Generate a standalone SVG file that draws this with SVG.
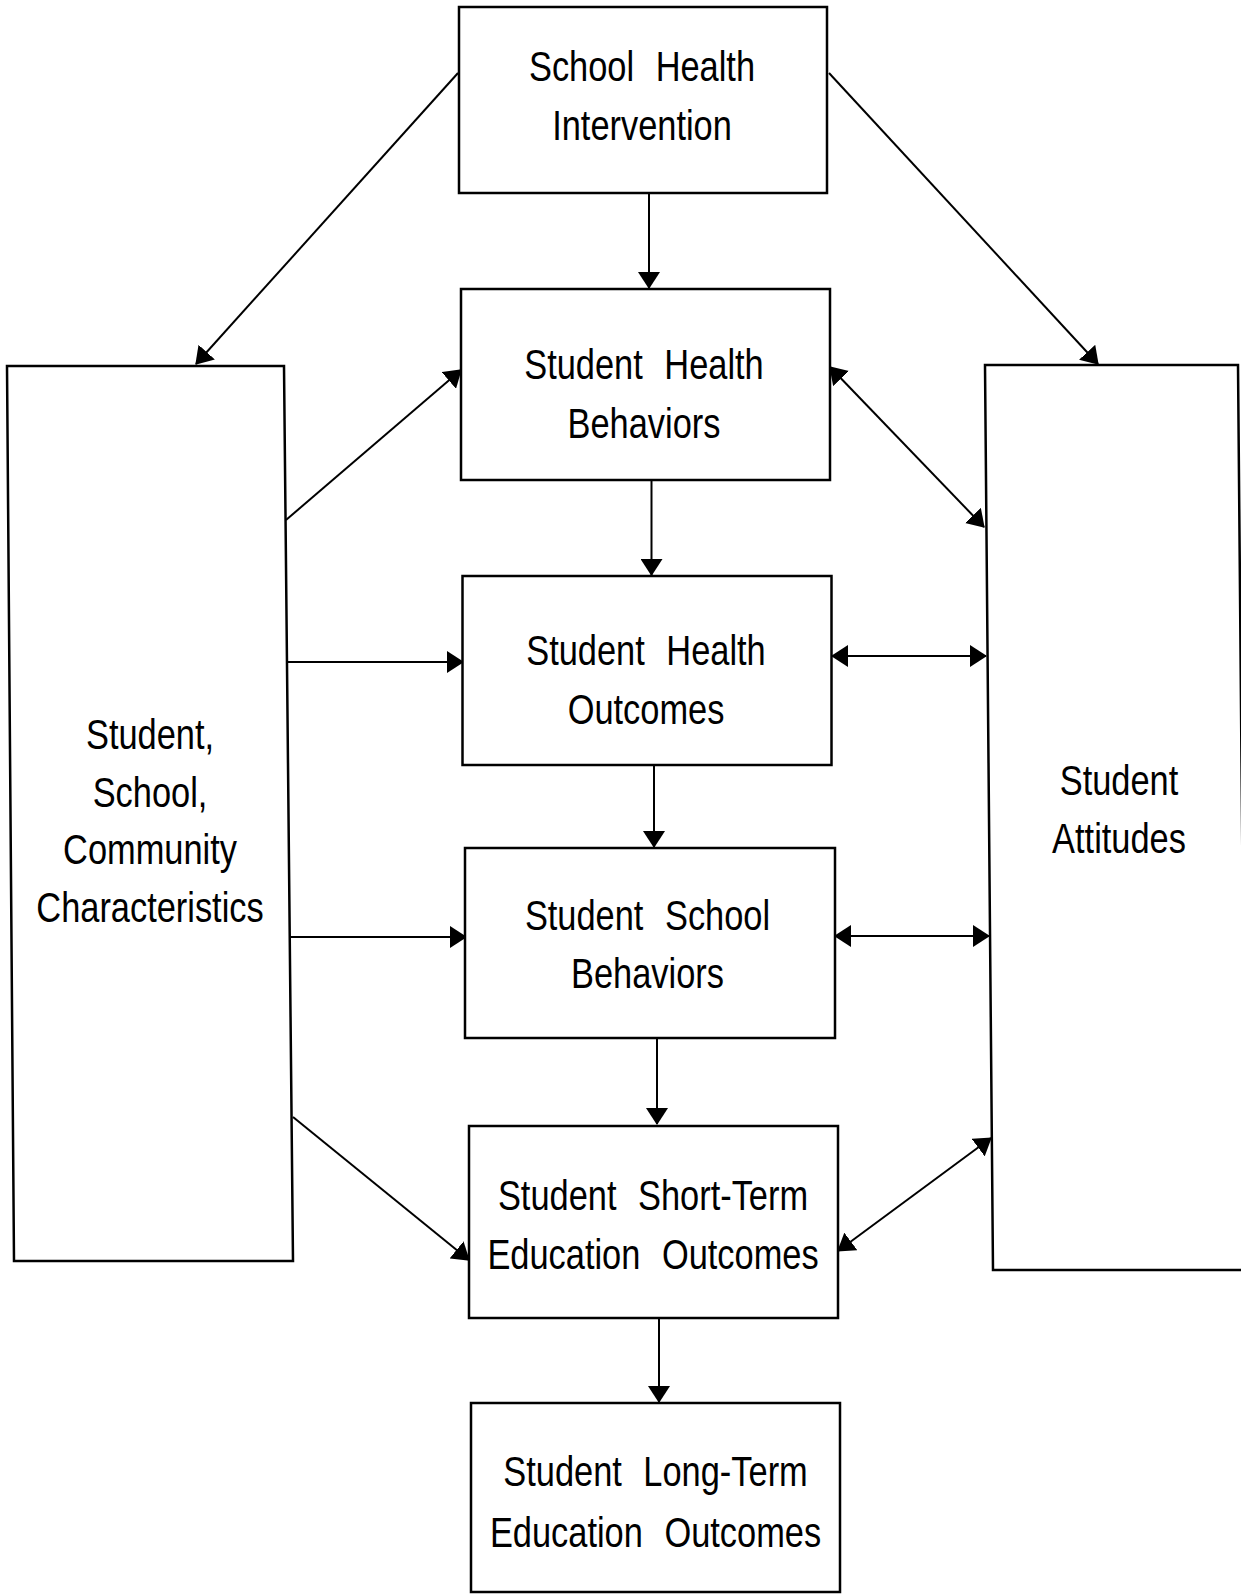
<svg xmlns="http://www.w3.org/2000/svg" width="1241" height="1594" viewBox="0 0 1241 1594">
  <style>
    .box { fill: #ffffff; stroke: #000000; stroke-width: 2.5; }
    .lbl { font-family: "Liberation Sans", Arial, Helvetica, sans-serif; font-size: 43px; fill: #000000; text-anchor: middle; word-spacing: 15px; }
    .edge { fill: none; stroke: #000000; stroke-width: 2; }
    .one { marker-end: url(#head); }
    .two { marker-start: url(#head); marker-end: url(#head); }
  </style>
  <defs>
    <marker id="head" viewBox="0 0 17 22" refX="16" refY="11" markerWidth="17" markerHeight="22" markerUnits="userSpaceOnUse" orient="auto-start-reverse">
      <path d="M0,0 L17,11 L0,22 z" fill="#000000"/>
    </marker>
  </defs>

  <rect width="1241" height="1594" fill="#ffffff"/>

  <!-- connectors -->
  <g id="connectors">
    <!-- vertical chain down the centre column -->
    <line class="edge one" x1="649" y1="193" x2="649" y2="288"/>
    <line class="edge one" x1="651.5" y1="480" x2="651.5" y2="575"/>
    <line class="edge one" x1="654" y1="766" x2="654" y2="847"/>
    <line class="edge one" x1="657" y1="1039" x2="657" y2="1124"/>
    <line class="edge one" x1="659" y1="1319" x2="659" y2="1402"/>
    <!-- intervention to the side boxes -->
    <line class="edge one" x1="458" y1="73" x2="196" y2="364"/>
    <line class="edge one" x1="829" y1="73" x2="1098" y2="364"/>
    <!-- characteristics to centre boxes -->
    <line class="edge one" x1="286" y1="520" x2="461" y2="370"/>
    <line class="edge one" x1="287" y1="662" x2="463" y2="662"/>
    <line class="edge one" x1="290" y1="937" x2="466" y2="937"/>
    <line class="edge one" x1="293" y1="1117" x2="469" y2="1260"/>
    <!-- two-way links with attitudes -->
    <line class="edge two" x1="830" y1="367" x2="984" y2="527"/>
    <line class="edge two" x1="832" y1="656" x2="986" y2="656"/>
    <line class="edge two" x1="835" y1="936" x2="989" y2="936"/>
    <line class="edge two" x1="838" y1="1251" x2="991" y2="1138"/>
  </g>

  <g id="school-health-intervention">
    <rect class="box" x="459" y="7" width="368" height="186"/>
    <text class="lbl" transform="translate(642 0) scale(0.8 1)"><tspan x="0" y="81">School Health</tspan><tspan x="0" y="140">Intervention</tspan></text>
  </g>

  <g id="student-health-behaviors">
    <rect class="box" x="461" y="289" width="369" height="191"/>
    <text class="lbl" transform="translate(644 0) scale(0.8 1)"><tspan x="0" y="379">Student Health</tspan><tspan x="0" y="438">Behaviors</tspan></text>
  </g>

  <g id="student-health-outcomes">
    <rect class="box" x="462.5" y="576" width="369" height="189"/>
    <text class="lbl" transform="translate(646 0) scale(0.8 1)"><tspan x="0" y="665">Student Health</tspan><tspan x="0" y="724">Outcomes</tspan></text>
  </g>

  <g id="student-school-behaviors">
    <rect class="box" x="465" y="848" width="370" height="190"/>
    <text class="lbl" transform="translate(647.5 0) scale(0.8 1)"><tspan x="0" y="930">Student School</tspan><tspan x="0" y="988">Behaviors</tspan></text>
  </g>

  <g id="student-short-term-education-outcomes">
    <rect class="box" x="469" y="1126" width="369" height="192"/>
    <text class="lbl" transform="translate(653 0) scale(0.8 1)"><tspan x="0" y="1210">Student Short-Term</tspan><tspan x="0" y="1269">Education Outcomes</tspan></text>
  </g>

  <g id="student-long-term-education-outcomes">
    <rect class="box" x="471" y="1403" width="369" height="189"/>
    <text class="lbl" transform="translate(655.5 0) scale(0.8 1)"><tspan x="0" y="1486">Student Long-Term</tspan><tspan x="0" y="1547">Education Outcomes</tspan></text>
  </g>

  <g id="student-school-community-characteristics">
    <polygon class="box" points="7,366 284,366 293,1261 14,1261"/>
    <text class="lbl" transform="translate(150 0) scale(0.8 1)"><tspan x="0" y="749">Student,</tspan><tspan x="0" y="807">School,</tspan><tspan x="0" y="864">Community</tspan><tspan x="0" y="922">Characteristics</tspan></text>
  </g>

  <g id="student-attitudes">
    <polygon class="box" points="985,365 1238,365 1246,1270 993,1270"/>
    <text class="lbl" transform="translate(1119 0) scale(0.8 1)"><tspan x="0" y="795">Student</tspan><tspan x="0" y="853">Attitudes</tspan></text>
  </g>
</svg>
